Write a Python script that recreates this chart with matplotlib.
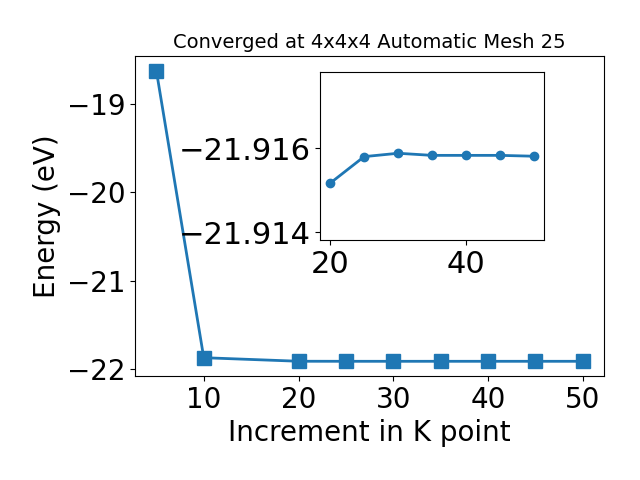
import matplotlib
matplotlib.use("Agg")
import matplotlib.pyplot as plt

# k-point increment vs total energy
kpts = [5, 10, 20, 25, 30, 35, 40, 45, 50]
energia = [-18.62, -21.875, -21.9152, -21.9158, -21.9159, -21.9158, -21.9158, -21.9158, -21.9158]

# zoom nos pontos convergidos
kpts_zoom = [20, 25, 30, 35, 40, 45, 50]
energia_zoom = [-21.91517, -21.91580, -21.91588, -21.91583, -21.91583, -21.91583, -21.91581]

fig = plt.figure(figsize=(6.4, 4.8), dpi=100)
ax = fig.add_axes([0.211, 0.217, 0.733, 0.666])
ax.plot(kpts, energia, marker='s', markersize=10, linewidth=2)
ax.set_title("Converged at 4x4x4 Automatic Mesh 25", fontsize=14)
ax.set_xlabel("Increment in K point", fontsize=20)
ax.set_ylabel("Energy (eV)", fontsize=20)
ax.tick_params(labelsize=20)
ax.set_yticks([-22, -21, -20, -19])

ins = fig.add_axes([0.5, 0.5, 0.35, 0.35])
ins.plot(kpts_zoom, energia_zoom, marker='o', markersize=6, linewidth=2)
ins.set_ylim(-21.91382, -21.91781)
ins.set_yticks([-21.916, -21.914])
ins.set_xticks([20, 40])
ins.ticklabel_format(axis='y', useOffset=False)
ins.tick_params(labelsize=22)

plt.savefig("out.png", dpi=100)
